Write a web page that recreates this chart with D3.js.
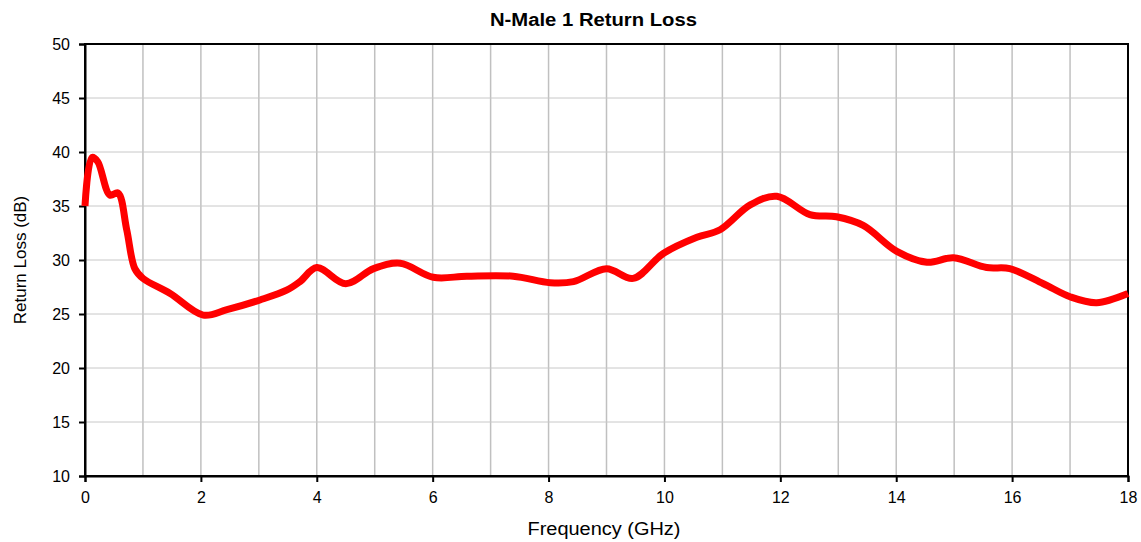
<!DOCTYPE html>
<html><head><meta charset="utf-8">
<script src="https://cdn.jsdelivr.net/npm/d3@7"></script>
<style>body{margin:0;background:#fff}svg{display:block;font-family:"Liberation Sans",Arial,sans-serif}</style>
</head><body><svg id="c" width="1141" height="542"></svg>
<script>
const freq = [0, 0.12, 0.22, 0.43, 0.57, 0.72, 0.86, 1.0, 1.47, 2.04, 2.45, 3.02, 3.48, 3.71, 4.0, 4.5, 4.98, 5.44, 6.01, 6.59, 7.39, 8.03, 8.43, 9.0, 9.46, 9.98, 10.56, 10.96, 11.48, 11.94, 12.51, 12.97, 13.43, 14.01, 14.53, 14.99, 15.56, 15.96, 16.54, 17.0, 17.46, 18.0];
const returnLoss = [35.0, 39.5, 39.1, 36.0, 36.2, 32.8, 29.2, 28.3, 26.9, 24.9, 25.4, 26.3, 27.2, 28.0, 29.3, 27.8, 29.2, 29.7, 28.4, 28.5, 28.5, 27.9, 28.0, 29.2, 28.3, 30.6, 32.1, 32.8, 35.1, 35.9, 34.2, 34.0, 33.2, 30.8, 29.8, 30.2, 29.3, 29.2, 27.8, 26.6, 26.05, 26.9];
const xTicks = [0, 2, 4, 6, 8, 10, 12, 14, 16, 18];
const yTicks = [10, 15, 20, 25, 30, 35, 40, 45, 50];
const xGrid = d3.range(0, 19, 1);

const svg = d3.select("#c");
const L = 85, R = 1128, T = 44, B = 476;
const x = d3.scaleLinear().domain([0, 18]).range([L, R]);
const y = d3.scaleLinear().domain([10, 50]).range([B, T]);

const g = svg.append("g");
g.selectAll(".vg").data(xGrid).join("line")
  .attr("x1", d => x(d)).attr("x2", d => x(d)).attr("y1", T).attr("y2", B)
  .attr("stroke", "#c0c0c0").attr("stroke-width", 1.5);
g.selectAll(".hg").data(yTicks).join("line")
  .attr("x1", L).attr("x2", R).attr("y1", d => y(d)).attr("y2", d => y(d))
  .attr("stroke", "#c8c8c8").attr("stroke-width", 1);

svg.append("rect").attr("x", L).attr("y", T).attr("width", R - L).attr("height", B - T)
  .attr("fill", "none").attr("stroke", "#000").attr("stroke-width", 2);

const xa = svg.append("g").attr("transform", `translate(0,${B})`)
  .call(d3.axisBottom(x).tickValues(xTicks).tickSize(6).tickPadding(10).tickFormat(d3.format("d")));
const ya = svg.append("g").attr("transform", `translate(${L},0)`)
  .call(d3.axisLeft(y).tickValues(yTicks).tickSize(6).tickPadding(9).tickFormat(d3.format("d")));
[xa, ya].forEach(a => {
  a.select(".domain").attr("stroke", "#000").attr("stroke-width", 2);
  a.selectAll(".tick line").attr("stroke", "#000").attr("stroke-width", 2);
  a.selectAll("text").attr("font-size", 16).attr("fill", "#000").attr("font-family", "Liberation Sans, Arial, sans-serif");
});

const line = d3.line().x((d, i) => x(freq[i])).y(d => y(d)).curve(d3.curveCatmullRom.alpha(0.5));
svg.append("path").datum(returnLoss).attr("d", line)
  .attr("fill", "none").attr("stroke", "#ff0000").attr("stroke-width", 7)
  .attr("stroke-linejoin", "round").attr("stroke-linecap", "butt");

svg.append("text").attr("x", 593.5).attr("y", 26).attr("text-anchor", "middle")
  .attr("font-size", 18).attr("font-weight", "bold")
  .attr("textLength", 207).attr("lengthAdjust", "spacingAndGlyphs").text("N-Male 1 Return Loss");
svg.append("text").attr("x", 604).attr("y", 535).attr("text-anchor", "middle")
  .attr("font-size", 18).attr("textLength", 153).attr("lengthAdjust", "spacingAndGlyphs").text("Frequency (GHz)");
svg.append("text").attr("transform", `translate(26,${(T + B) / 2}) rotate(-90)`).attr("text-anchor", "middle")
  .attr("font-size", 17).text("Return Loss (dB)");
</script></body></html>
